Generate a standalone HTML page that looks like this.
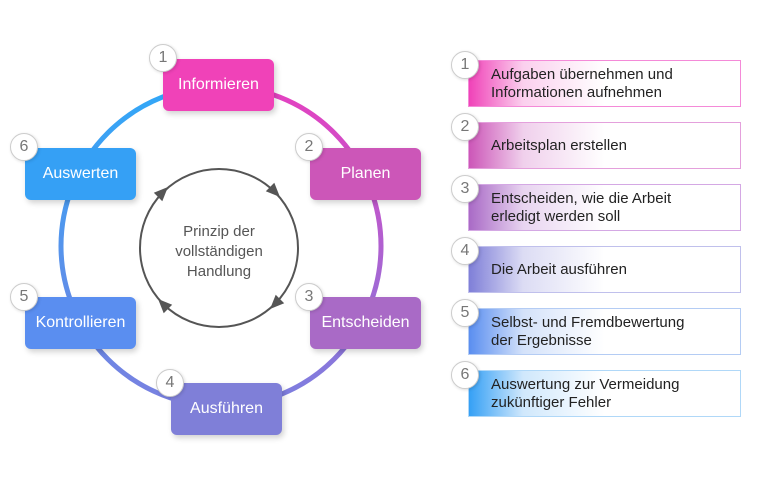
<!DOCTYPE html>
<html><head><style>
body{margin:0;width:768px;height:479px;background:#fff;position:relative;overflow:hidden;font-family:"Liberation Sans",sans-serif}
.b{position:absolute;width:111px;height:52px;border-radius:6px;color:#fff;font-size:16px;display:flex;align-items:center;justify-content:center;box-shadow:2px 3px 6px rgba(0,0,0,.18)}
.n{position:absolute;width:26px;height:26px;border-radius:50%;background:#fff;border:1.5px solid #ccc;color:#777;font-size:16px;display:flex;align-items:center;justify-content:center;box-shadow:1px 1px 3px rgba(0,0,0,.15);z-index:2}
.r{position:absolute;left:468px;width:273px;height:47px;border:1px solid;display:flex;align-items:center;padding-left:22px;box-sizing:border-box;font-size:15px;color:#222;line-height:18px}
</style></head><body>
<svg width="768" height="479" style="position:absolute;left:0;top:0">
<defs><linearGradient id="g" x1="0" y1="0" x2="0" y2="1">
<stop offset="0" stop-color="#e640c0"/><stop offset="0.5" stop-color="#b060d0"/><stop offset="1" stop-color="#7a80e0"/></linearGradient>
<linearGradient id="g2" x1="0" y1="0" x2="0" y2="1"><stop offset="0" stop-color="#30a8f8"/><stop offset="1" stop-color="#7a80e0"/></linearGradient></defs>
<path d="M221,86 A160,160 0 0 1 221,406" fill="none" stroke="url(#g)" stroke-width="5"/>
<path d="M221,86 A160,160 0 0 0 221,406" fill="none" stroke="url(#g2)" stroke-width="5"/>
<circle cx="219" cy="248" r="79" fill="none" stroke="#555" stroke-width="2"/>
<g fill="#555">
<path d="M-7,-6 L7,0 L-7,6z" transform="translate(275,192) rotate(45)"/>
<path d="M-7,-6 L7,0 L-7,6z" transform="translate(275,304) rotate(135)"/>
<path d="M-7,-6 L7,0 L-7,6z" transform="translate(163,304) rotate(225)"/>
<path d="M-7,-6 L7,0 L-7,6z" transform="translate(163,192) rotate(315)"/>
</g>
<text x="219" y="236" text-anchor="middle" font-size="15" fill="#555" font-family="Liberation Sans">Prinzip der</text>
<text x="219" y="256" text-anchor="middle" font-size="15" fill="#555" font-family="Liberation Sans">vollständigen</text>
<text x="219" y="276" text-anchor="middle" font-size="15" fill="#555" font-family="Liberation Sans">Handlung</text>
</svg>
<div class="b" style="left:163px;top:59px;background:#f042b8">Informieren</div>
<div class="b" style="left:310px;top:148px;background:#cc56b8">Planen</div>
<div class="b" style="left:310px;top:297px;background:#a96ac6">Entscheiden</div>
<div class="b" style="left:171px;top:383px;background:#7f7fd8">Ausführen</div>
<div class="b" style="left:25px;top:297px;background:#5a8ef0">Kontrollieren</div>
<div class="b" style="left:25px;top:148px;background:#35a0f5">Auswerten</div>
<div class="n" style="left:149px;top:44px">1</div>
<div class="n" style="left:295px;top:133px">2</div>
<div class="n" style="left:295px;top:283px">3</div>
<div class="n" style="left:156px;top:369px">4</div>
<div class="n" style="left:10px;top:283px">5</div>
<div class="n" style="left:10px;top:133px">6</div>

<div class="r" style="top:60px;border-color:#f48ad8;background:linear-gradient(90deg,#f042b8,#fbd0ee 20%,#fff 50%)">Aufgaben übernehmen und<br>Informationen aufnehmen</div>
<div class="r" style="top:122px;border-color:#e4a0dc;background:linear-gradient(90deg,#cc56b8,#f0d0ec 20%,#fff 50%)">Arbeitsplan erstellen</div>
<div class="r" style="top:184px;border-color:#d4a8e4;background:linear-gradient(90deg,#a96ac6,#e8d4f0 20%,#fff 50%)">Entscheiden, wie die Arbeit<br>erledigt werden soll</div>
<div class="r" style="top:246px;border-color:#c0c0ec;background:linear-gradient(90deg,#7f7fd8,#dcdcf4 20%,#fff 50%)">Die Arbeit ausführen</div>
<div class="r" style="top:308px;border-color:#b4ccf4;background:linear-gradient(90deg,#5a8ef0,#d4e2fa 20%,#fff 50%)">Selbst- und Fremdbewertung<br>der Ergebnisse</div>
<div class="r" style="top:370px;border-color:#b0d8f8;background:linear-gradient(90deg,#35a0f5,#d0e8fc 20%,#fff 50%)">Auswertung zur Vermeidung<br>zukünftiger Fehler</div>
<div class="n" style="left:451px;top:51px">1</div>
<div class="n" style="left:451px;top:113px">2</div>
<div class="n" style="left:451px;top:175px">3</div>
<div class="n" style="left:451px;top:237px">4</div>
<div class="n" style="left:451px;top:299px">5</div>
<div class="n" style="left:451px;top:361px">6</div>
</body></html>
